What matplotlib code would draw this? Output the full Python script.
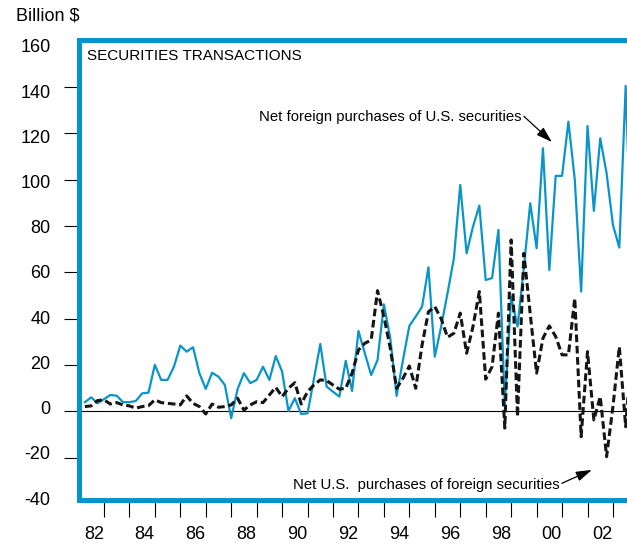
import matplotlib
matplotlib.use("Agg")
import matplotlib.pyplot as plt
import pandas as pd
from matplotlib.ticker import NullFormatter

plt.rcParams['font.family'] = ['Liberation Sans', 'DejaVu Sans']
plt.rcParams['axes.unicode_minus'] = False

# quarterly flows, billion $, starting 1982Q1
quarters = pd.period_range('1982Q1', periods=87, freq='Q')

foreign_buys_us = [
    4.0, 6.1, 3.5, 5.3, 7.1, 6.8, 4.0, 4.0, 4.5, 7.8,
    8.1, 20.1, 13.6, 13.6, 19.3, 28.4, 25.8, 27.7, 16.5, 9.7,
    16.7, 15.0, 11.4, -2.9, 9.6, 16.5, 12.2, 13.6, 19.3, 13.6,
    23.9, 17.2, 0.2, 5.7, -1.1, -0.8, 14.0, 29.1, 10.7, 8.5,
    6.4, 21.8, 8.8, 34.7, 25.1, 15.7, 22.2, 46.2, 31.6, 6.7,
    22.2, 36.9, 40.9, 45.2, 62.2, 23.6, 36.6, 51.0, 66.0, 97.7,
    68.2, 79.7, 88.8, 56.7, 57.5, 78.3, 2.8, 49.5, 36.6, 62.0,
    89.8, 70.4, 113.5, 61.0, 101.6, 101.6, 125.0, 100.0, 51.7, 123.1,
    86.5, 117.8, 102.7, 80.4, 70.7, 140.4, 60.0,
]

us_buys_foreign = [
    2.1, 2.4, 4.7, 5.0, 3.2, 3.8, 2.8, 2.4, 1.4, 2.1,
    2.5, 5.0, 3.8, 3.5, 3.2, 2.8, 6.7, 3.5, 2.1, -1.1,
    3.2, 1.8, 2.1, 2.8, 5.7, 0.6, 2.8, 4.2, 3.8, 7.1,
    10.4, 6.4, 10.0, 12.4, 3.2, 8.5, 11.4, 13.6, 13.3, 11.4,
    9.6, 10.0, 16.5, 26.5, 29.4, 30.8, 52.1, 40.9, 27.3, 10.0,
    14.3, 19.6, 10.0, 28.7, 43.0, 45.2, 40.0, 32.0, 33.7, 42.4,
    25.1, 36.6, 51.7, 13.9, 19.3, 42.4, -7.2, 74.0, -2.2, 68.2,
    42.0, 16.5, 31.6, 36.9, 32.3, 24.4, 24.4, 48.8, -10.9, 25.8,
    -3.7, 6.4, -19.5, 2.1, 27.9, -6.6, 29.4,
]

year_ticks = list(range(1983, 2004))
label_years = list(range(1982, 2003, 2))
year_labels = ['82', '84', '86', '88', '90', '92', '94', '96', '98', '00', '02']
y_labels = list(range(-40, 161, 20))
y_marks = list(range(-20, 141, 20))

FRAME = '#0096c8'
LINE_BLUE = '#0a95c9'


def quarter_pos(q):
    # each quarter sits at its end
    return q.year + q.quarter / 4.0


fig = plt.figure(figsize=(6.27, 5.44), dpi=100)
ax = fig.add_axes([0.1252, 0.0732, 0.8748, 0.8524])

x = [quarter_pos(q) for q in quarters]
ax.axhline(0, color='black', lw=0.8, zorder=2)
ax.plot(x, foreign_buys_us, color=LINE_BLUE, lw=1.6, zorder=3)
ax.plot(x, us_buys_foreign, color='#151515', lw=2.2, dashes=(2.5, 1.2), zorder=4)

ax.set_xlim(1982, 1982 + 548.5 / 25.45)
ax.set_ylim(-40, 160)

# frame: blue on three sides, right side runs off the page
for side in ['left', 'top', 'bottom']:
    ax.spines[side].set_color(FRAME)
    ax.spines[side].set_linewidth(3.6)
ax.spines['right'].set_visible(False)
ax.spines['bottom'].set_position(('data', -38))
ax.spines['left'].set_bounds(-38, 160)

# x axis: year marks, labels between them
ax.set_xticks(year_ticks)
ax.xaxis.set_major_formatter(NullFormatter())
ax.set_xticks([y + 0.6 for y in label_years], minor=True)
ax.set_xticklabels(year_labels, minor=True)
ax.tick_params(axis='x', which='major', direction='out', length=12.5, width=0.8, color='black')
ax.tick_params(axis='x', which='minor', length=0, pad=19, labelsize=13)

# y axis marks on the main axes, labels on a twin so they can sit a bit off the marks
ax.set_yticks(y_marks)
ax.yaxis.set_major_formatter(NullFormatter())
ax.tick_params(axis='y', direction='out', length=10.5, width=0.8, color='black')

lab = ax.twinx()
lab.set_ylim(-42.7, 162.4)
lab.yaxis.tick_left()
lab.set_yticks(y_labels)
lab.tick_params(axis='y', length=0, pad=20, labelsize=13)
for s in lab.spines.values():
    s.set_visible(False)

fig.text(16 / 627, 1 - 20 / 544, 'Billion $', fontsize=13, va='baseline')
fig.text(87.3 / 627, 1 - 60.5 / 544, 'SECURITIES TRANSACTIONS', fontsize=11, va='baseline')

arrow = dict(arrowstyle='-|>,head_length=0.8,head_width=0.25', color='black',
             lw=0.9, mutation_scale=12, shrinkA=0, shrinkB=0)
ax.text(1999.41, 126.9, 'Net foreign purchases of U.S. securities',
        ha='right', va='center', fontsize=10.7)
ax.annotate('', xy=(2000.6, 116.2), xytext=(1999.5, 127.3), arrowprops=arrow)
ax.text(2000.92, -31.7, 'Net U.S.  purchases of foreign securities',
        ha='right', va='center', fontsize=10.7)
ax.annotate('', xy=(2002.17, -25.2), xytext=(2000.99, -31.0), arrowprops=arrow)

fig.savefig('out.png', dpi=100)
